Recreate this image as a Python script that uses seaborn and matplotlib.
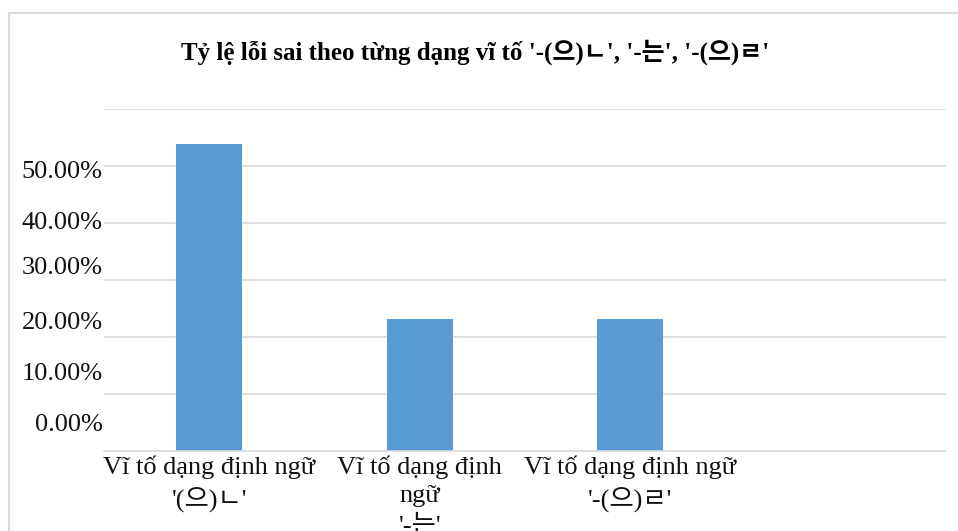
import numpy as np
import pandas as pd
import matplotlib
matplotlib.use("Agg")
import matplotlib.pyplot as plt
from matplotlib.patches import Rectangle
import seaborn as sns

# Data
categories = [
    "Vĩ tố dạng định ngữ\n'(으)ㄴ'",
    "Vĩ tố dạng định\nngữ\n'-는'",
    "Vĩ tố dạng định ngữ\n'-(으)ㄹ'",
    " ",
]
error_rates = [53.85, 23.08, 23.08, np.nan]  # percent
y_tick_values = [0, 10, 20, 30, 40, 50]
y_tick_labels = ["0.00%", "10.00%", "20.00%", "30.00%", "40.00%", "50.00%"]
title = "Tỷ lệ lỗi sai theo từng dạng vĩ tố '-(으)ㄴ', '-는', '-(으)ㄹ'"

# Layout: where the axis labels sit (they are drawn slightly offset from the gridlines)
label_offsets = [5.0, 4.0, 2.9, 2.5, 0.4, -0.6]
grid_values = [10, 20, 30, 40, 50, 60]

sns.set_theme(style="white")
plt.rcParams["font.family"] = ["Liberation Serif", "Noto Sans CJK KR"]

W, H = 958, 531
fig = plt.figure(figsize=(W / 100, H / 100), dpi=100)
ax = fig.add_axes([104 / W, 80 / H, (946 - 104) / W, (451 - 109) / H])

df = pd.DataFrame({"cat": categories, "rate": error_rates})
sns.barplot(data=df, x="cat", y="rate", order=categories, color="#5B9BD5",
            saturation=1, width=0.315, linewidth=0, ax=ax)

ax.set_ylim(0, 60)
ax.set_xlim(-0.5, len(categories) - 0.5)
ax.set_xlabel("")
ax.set_ylabel("")

# gridlines on minor ticks, labels on major ticks
ax.set_yticks(grid_values, minor=True)
ax.set_yticks([v + o for v, o in zip(y_tick_values, label_offsets)])
ax.set_yticklabels(y_tick_labels, fontsize=19, color="#111111")
ax.set_xticks(range(len(categories)))
ax.set_xticklabels(categories, fontsize=19, color="#111111", linespacing=1.4)
ax.grid(False)
ax.grid(which="minor", axis="y", color="#d9d9d9", linewidth=1.2)
ax.tick_params(axis="y", which="both", length=0, pad=1)
ax.tick_params(axis="x", length=0, pad=3)

for side in ["top", "right", "left"]:
    ax.spines[side].set_visible(False)
ax.spines["bottom"].set_color("#d9d9d9")
ax.spines["bottom"].set_linewidth(1.2)

fig.text(475 / W, 1 - 52 / H, title, ha="center", va="center",
         fontsize=18, fontweight="bold", color="#000000")

# chart border
fig.patches.append(Rectangle((9 / W, -0.2), 1.2, 1.2 - 13 / H, transform=fig.transFigure,
                             fill=False, edgecolor="#d9d9d9", linewidth=1.5, clip_on=False))

fig.savefig("out.png", dpi=100)
